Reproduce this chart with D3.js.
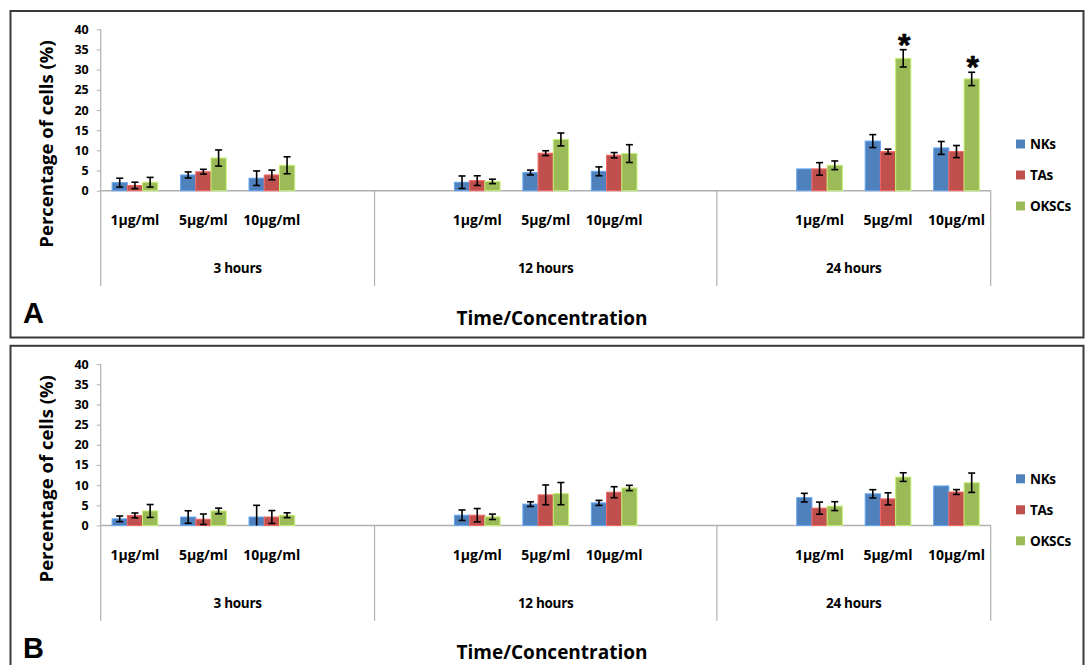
<!DOCTYPE html>
<html>
<head>
<meta charset="utf-8">
<script src="https://cdn.jsdelivr.net/npm/d3@7"></script>
<style>
  body { margin: 0; background: #fff; }
  svg { display: block; font-family: "Open Sans", Lato, sans-serif; font-weight: 700; }
</style>
</head>
<body>
<svg id="chart" width="1086" height="665"></svg>
<script>
const series = ["NKs", "TAs", "OKSCs"];
const colors = ["#4F81BD", "#C0504D", "#9BBB59"];
const groups = ["3 hours", "12 hours", "24 hours"];
// 13 slots on the category axis, "" marks an empty slot
const slotGroup = [0, 0, 0, 0, 1, 1, 1, 1, 1, 2, 2, 2, 2];
const slotConc = ["1µg/ml", "5µg/ml", "10µg/ml", "", "", "1µg/ml", "5µg/ml", "10µg/ml", "", "", "1µg/ml", "5µg/ml", "10µg/ml"];
// where each measured point sits (3h 1/5/10, 12h 1/5/10, 24h 1/5/10)
const pointSlot = [0, 1, 2, 5, 6, 7, 10, 11, 12];
const yTicks = [0, 5, 10, 15, 20, 25, 30, 35, 40];

// panel A
const nksA = [2.0, 3.9, 3.1, 2.1, 4.5, 4.8, 5.4, 12.3, 10.6];
const nksAErr = [1.1, 0.75, 1.8, 1.55, 0.6, 1.1, 0, 1.6, 1.6];
const tasA = [1.3, 4.7, 3.9, 2.5, 9.3, 8.8, 5.4, 9.7, 9.7];
const tasAErr = [0.8, 0.6, 1.2, 1.2, 0.6, 0.65, 1.55, 0.6, 1.5];
const okscsA = [2.1, 8.1, 6.3, 2.3, 12.7, 9.2, 6.3, 32.8, 27.7];
const okscsAErr = [1.2, 2.0, 2.1, 0.55, 1.6, 2.2, 1.07, 2.15, 1.65];
const okscsASig = [0, 0, 0, 0, 0, 0, 0, 1, 1];

// panel B
const nksB = [1.65, 2.1, 2.1, 2.55, 5.3, 5.6, 6.9, 7.85, 9.8];
const nksBErr = [0.7, 1.55, 2.9, 1.3, 0.58, 0.62, 1.07, 1.03, 0];
const tasB = [2.5, 1.55, 2.1, 2.55, 7.6, 8.25, 4.3, 6.6, 8.3];
const tasBErr = [0.6, 1.3, 1.6, 1.65, 2.45, 1.36, 1.5, 1.5, 0.6];
const okscsB = [3.6, 3.6, 2.55, 2.15, 7.9, 9.3, 4.8, 12.0, 10.6];
const okscsBErr = [1.6, 0.7, 0.6, 0.67, 2.75, 0.66, 1.1, 1.07, 2.4];

const svg = d3.select("#chart");

const left = 100.7, right = 990.7;
const x0 = d3.scaleBand().domain(d3.range(slotConc.length)).range([left, right]);
// excel gap width 150% -> 3 bars + 1.5 bar of gap
const x1 = d3.scaleBand().domain(series).range([0, x0.bandwidth()]).paddingInner(0).paddingOuter(0.75);

function drawPanel(dy, vals, errs, sigs, letter) {
    const g = svg.append("g").attr("transform", `translate(0, ${dy})`);
    const y = d3.scaleLinear().domain([0, 40]).range([190.7, 29.3]);

    g.append("rect")
    .attr("x", 10.5).attr("y", 11).attr("width", 1073).attr("height", 326.5)
    .attr("fill", "none").attr("stroke", "#3a3a3a").attr("stroke-width", 2);

    // y axis
    const yAxis = g.append("g")
    .attr("transform", `translate(${left}, 0)`)
    .call(d3.axisLeft(y).tickValues(yTicks).tickSize(4).tickPadding(8));
    yAxis.select(".domain").remove();
    yAxis.selectAll("line").attr("stroke", "#b0b0b0");
    yAxis.selectAll("text").attr("fill", "#000").style("font-size", "12.5px").style("font-family", "'Open Sans', sans-serif").style("font-weight", 700);

    // axis lines and group dividers
    g.append("line").attr("x1", left).attr("x2", left).attr("y1", y(40)).attr("y2", 286)
    .attr("stroke", "#b0b0b0").attr("stroke-width", 1.2);
    g.append("line").attr("x1", left).attr("x2", right).attr("y1", y(0)).attr("y2", y(0))
    .attr("stroke", "#b0b0b0").attr("stroke-width", 1.5);
    [4, 9, 13].forEach(s => {
        const xs = left + s * x0.step();
        g.append("line").attr("x1", xs).attr("x2", xs).attr("y1", y(0)).attr("y2", 286)
        .attr("stroke", "#b0b0b0").attr("stroke-width", 1.2);
    });

    // bars
    series.forEach((name, si) => {
        const rows = vals[si].map((v, i) => ({ v, e: errs[si][i], s: sigs[si] ? sigs[si][i] : 0, slot: pointSlot[i] }));
        const bx = d => x0(d.slot) + x1(name);
        const bw = x1.bandwidth();

        g.append("g").selectAll("rect")
        .data(rows)
        .enter()
        .append("rect")
        .attr("x", bx)
        .attr("y", d => y(d.v))
        .attr("width", bw)
        .attr("height", d => y(0) - y(d.v))
        .attr("fill", colors[si])
        .attr("stroke", d3.color(colors[si]).brighter(0.7))
        .attr("stroke-width", 1);

        const eb = g.append("g").selectAll("g")
        .data(rows.filter(d => d.e > 0))
        .enter()
        .append("g")
        .attr("stroke", "#000")
        .attr("stroke-width", 1.6);
        const cx = d => bx(d) + bw / 2;
        eb.append("line").attr("x1", cx).attr("x2", cx)
        .attr("y1", d => y(d.v + d.e)).attr("y2", d => y(Math.max(0, d.v - d.e)));
        eb.append("line").attr("x1", d => cx(d) - 3.5).attr("x2", d => cx(d) + 3.5)
        .attr("y1", d => y(d.v + d.e)).attr("y2", d => y(d.v + d.e));
        eb.filter(d => d.v - d.e > 0)
        .append("line").attr("x1", d => cx(d) - 3.5).attr("x2", d => cx(d) + 3.5)
        .attr("y1", d => y(d.v - d.e)).attr("y2", d => y(d.v - d.e));

        g.append("g").selectAll("text")
        .data(rows.filter(d => d.s))
        .enter()
        .append("text")
        .attr("x", d => cx(d) + 1)
        .attr("y", d => y(d.v + d.e) + 6)
        .attr("text-anchor", "middle")
        .style("font-family", "'Liberation Sans', Arial, sans-serif")
        .style("font-size", "32px")
        .style("stroke", "#000")
        .style("stroke-width", 0.6)
        .text("*");
    });

    // category labels
    g.append("g").selectAll("text")
    .data(slotConc.map((c, i) => ({ c, i })).filter(d => d.c))
    .enter()
    .append("text")
    .attr("x", d => x0(d.i) + x0.bandwidth() / 2)
    .attr("y", 225)
    .attr("text-anchor", "middle")
    .style("font-size", "14px")
    .text(d => d.c);

    g.append("g").selectAll("text")
    .data(groups)
    .enter()
    .append("text")
    .attr("x", (d, gi) => {
        const idx = slotGroup.map((v, i) => v === gi ? i : -1).filter(i => i >= 0);
        return (x0(idx[0]) + x0(idx[idx.length - 1]) + x0.bandwidth()) / 2;
    })
    .attr("y", 273)
    .attr("text-anchor", "middle")
    .style("font-size", "13.5px")
    .style("letter-spacing", "-0.3px")
    .text(d => d);

    // titles
    g.append("text")
    .attr("transform", "translate(53, 144) rotate(-90)")
    .attr("text-anchor", "middle")
    .style("font-size", "18.5px")
    .text("Percentage of cells (%)");

    g.append("text")
    .attr("x", 552).attr("y", 324.5)
    .attr("text-anchor", "middle")
    .style("font-size", "19px")
    .text("Time/Concentration");

    g.append("text")
    .attr("x", 23).attr("y", 323)
    .style("font-family", "'Liberation Sans', Arial, sans-serif")
    .style("font-size", "29px")
    .text(letter);

    // legend
    const lg = g.append("g").selectAll("g")
    .data(series)
    .enter()
    .append("g")
    .attr("transform", (d, i) => `translate(1016, ${144 + i * 31})`);
    lg.append("rect").attr("x", 0).attr("y", -4.5).attr("width", 9).attr("height", 9)
    .attr("fill", (d, i) => colors[i]);
    lg.append("text").attr("x", 14).attr("y", 5)
    .style("font-size", "13.5px")
    .style("letter-spacing", "-0.3px")
    .text(d => d);
}

drawPanel(0, [nksA, tasA, okscsA], [nksAErr, tasAErr, okscsAErr], [null, null, okscsASig], "A");
drawPanel(334.8, [nksB, tasB, okscsB], [nksBErr, tasBErr, okscsBErr], [null, null, null], "B");
</script>
</body>
</html>
